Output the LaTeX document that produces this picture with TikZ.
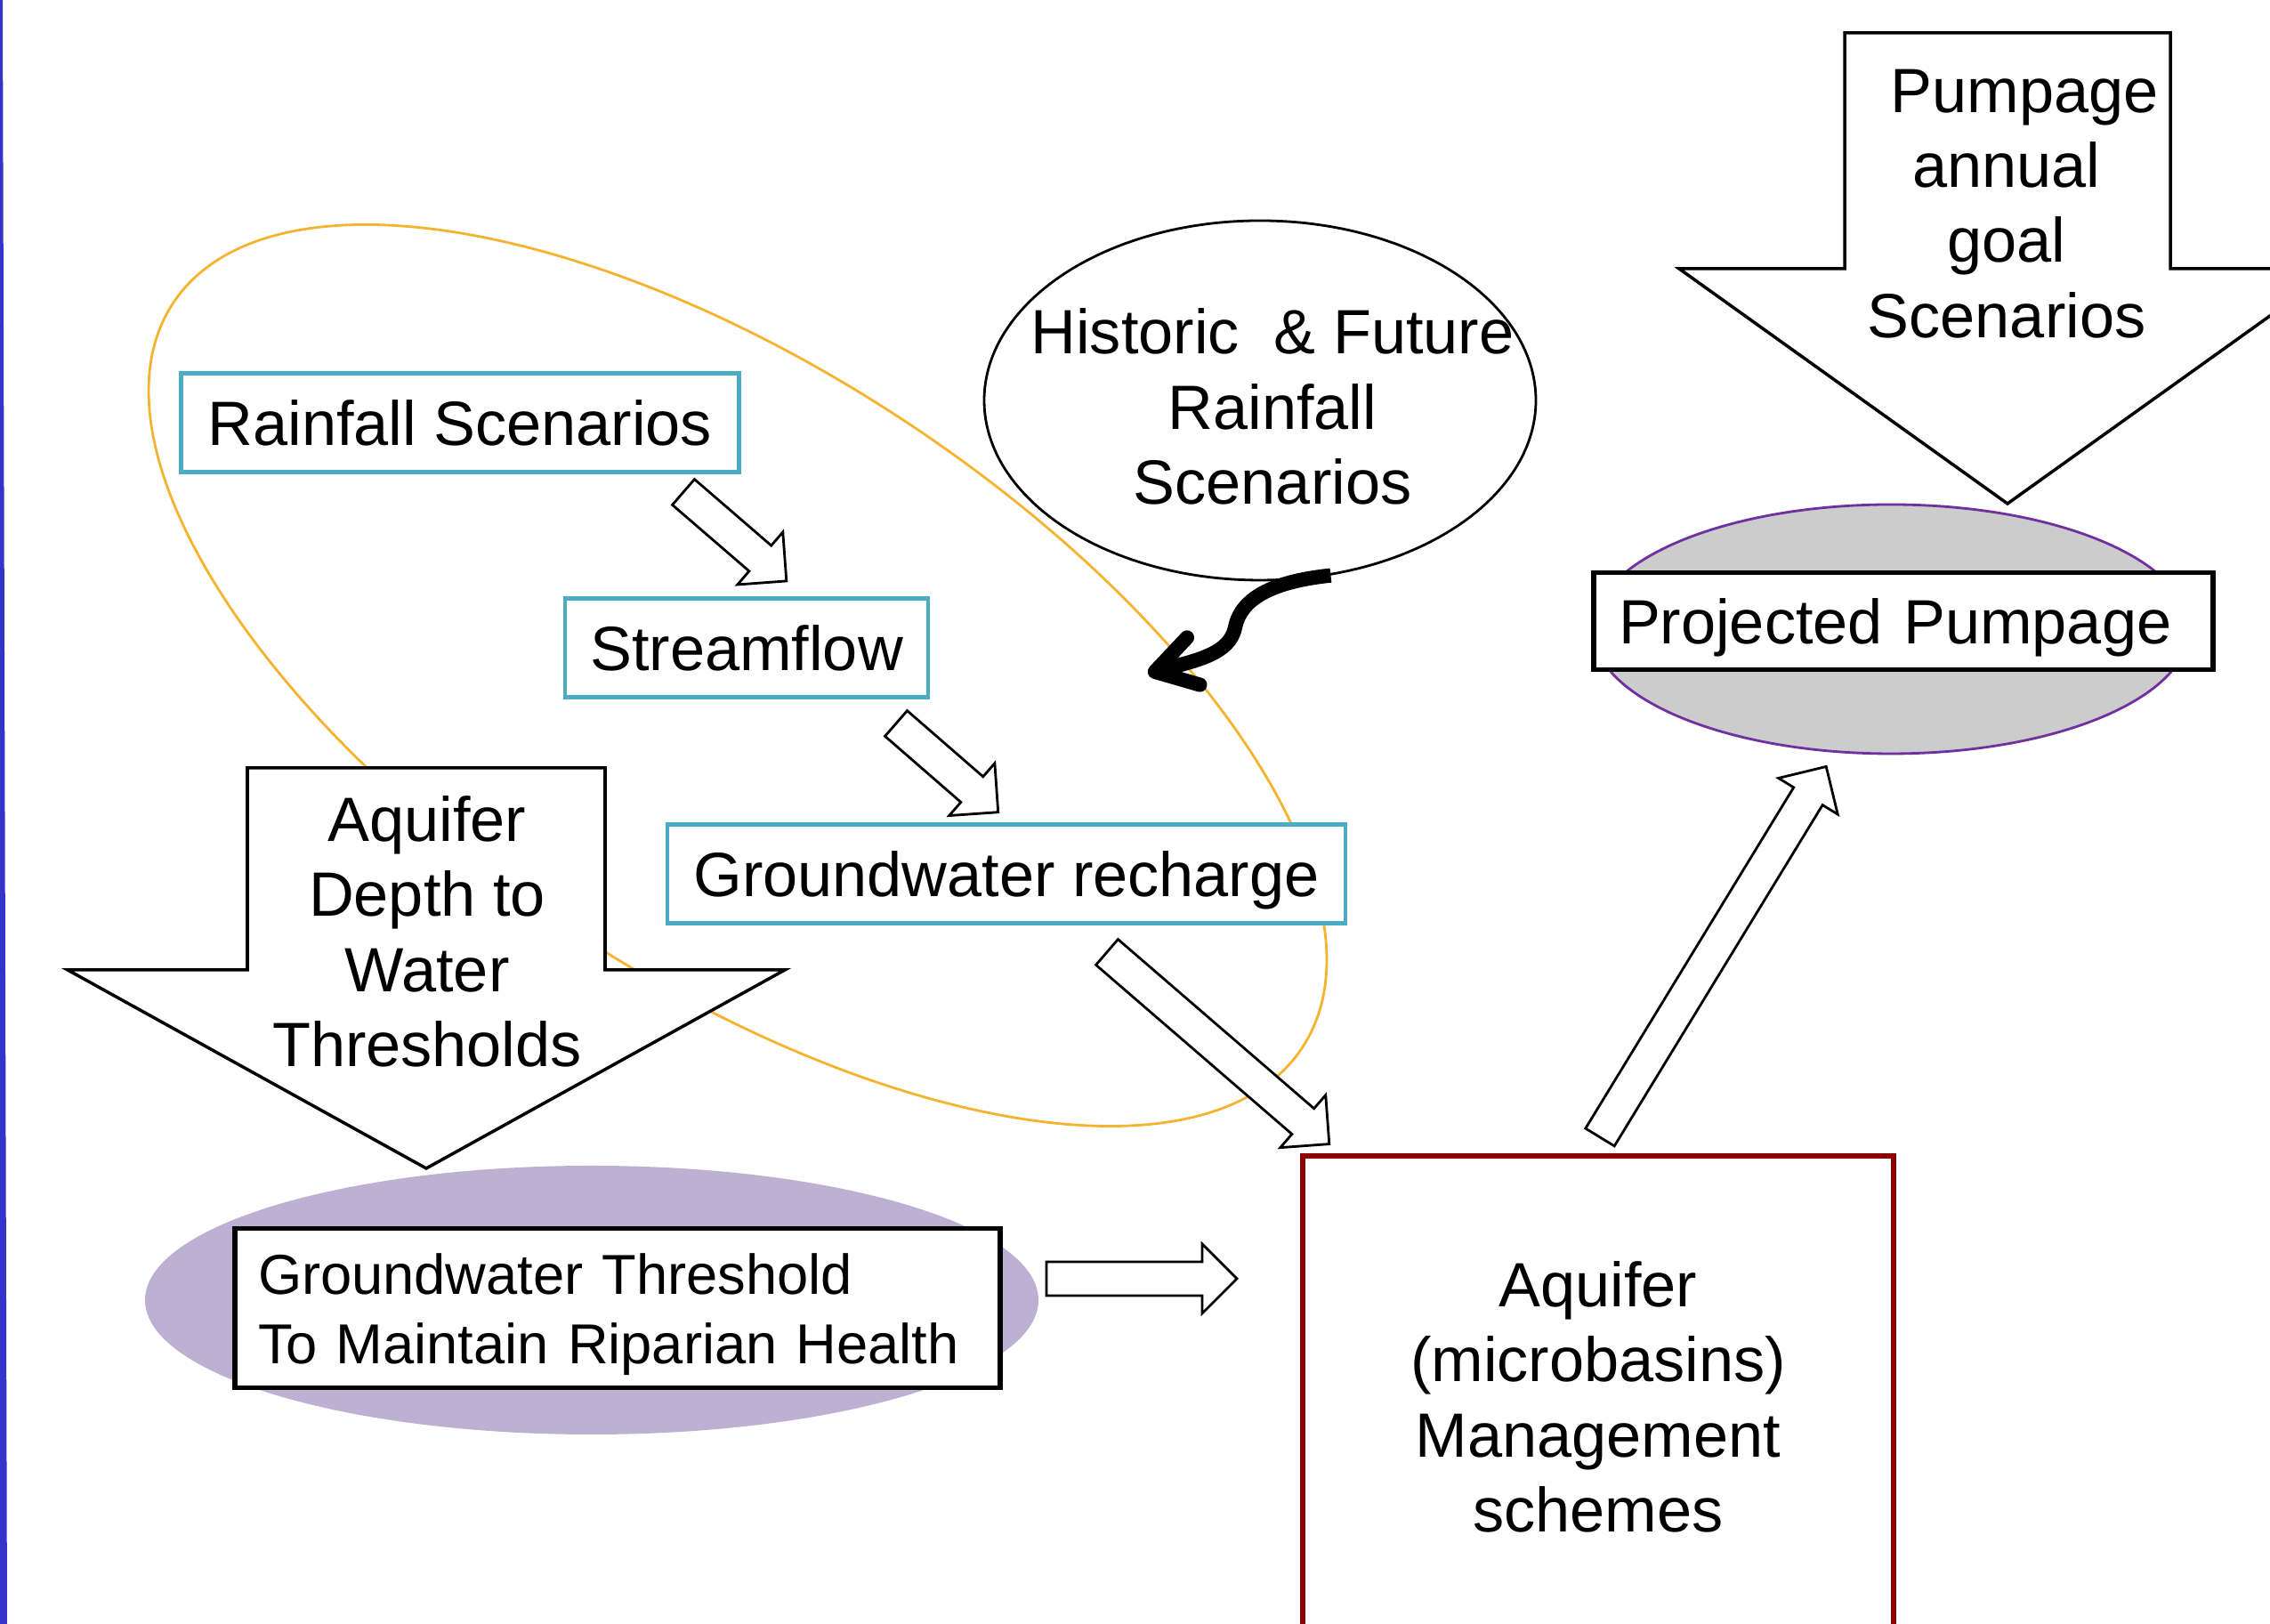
\documentclass[tikz,border=0pt]{standalone}
\usepackage{fontspec}
\setmainfont{Liberation Sans}
\usetikzlibrary{arrows.meta,shapes.geometric}

\definecolor{tealedge}{HTML}{4BACC6}
\definecolor{ringorange}{HTML}{F5B330}
\definecolor{lavender}{HTML}{BDB0D2}
\definecolor{violetedge}{HTML}{7030A0}
\definecolor{darkred}{HTML}{8B0000}
\definecolor{sideblue}{HTML}{3434CC}

\tikzset{
    txt/.style={font=\fontsize{20}{24}\selectfont, align=center},
    bluebox/.style={draw=tealedge, line width=1.4pt, fill=white, minimum height=1.11cm, text depth=0pt, txt},
    blackbox/.style={draw, line width=1.6pt, fill=white},
}

% fleche creuse : origine, angle, longueur
\newcommand{\hollow}[3]{
    \begin{scope}[shift={#1}, rotate=#2]
        \draw[fill=white, line width=.8pt] (0,-.19) -- ({#3-.39},-.19) -- ({#3-.39},-.39) -- (#3,0)
            -- ({#3-.39},.39) -- ({#3-.39},.19) -- (0,.19) -- cycle;
    \end{scope}
}
% grosse fleche vers le bas : x, demi-largeur, haut, ailes, demi-tete, pointe
\newcommand{\bigdown}[6]{
    \draw[fill=white, line width=1pt] ({#1-#2},#3) -- ({#1+#2},#3) -- ({#1+#2},#4) -- ({#1+#5},#4)
        -- (#1,#6) -- ({#1-#5},#4) -- ({#1-#2},#4) -- cycle;
}

\begin{document}
\begin{tikzpicture}
    \useasboundingbox (0,0) rectangle (25.51,18.25);
    \clip (0,0) rectangle (25.51,18.25);

    % bord gauche
    \fill[sideblue] (0,18.25) -- (.03,18.25) -- (.08,0) -- (0,0) -- cycle;

    % anneau
    \draw[ringorange, line width=.8pt] (8.29,10.66) ellipse[x radius=7.6, y radius=3.42, rotate=-33.4];

    % fonds
    \fill[lavender] (6.65,3.64) ellipse (5.02 and 1.51);
    \draw[violetedge, fill=black!20, line width=.8pt] (21.25,11.18) ellipse (3.35 and 1.40);

    % pluie
    \node[bluebox, minimum width=6.27cm] (rain) at (5.17,13.50) {Rainfall Scenarios};
    \node[bluebox, minimum width=4.08cm] (flow) at (8.39,10.97) {Streamflow};
    \node[bluebox, minimum width=7.62cm] (rech) at (11.31,8.43) {Groundwater recharge};

    \node[draw, ellipse, fill=white, line width=.8pt, minimum width=6.2cm, minimum height=4.04cm] (hist) at (14.16,13.75) {};
    \node[txt] (histtxt) at (14.30,13.68) {Historic\ \ \& Future\\Rainfall\\Scenarios};

    % pompage
    \bigdown{22.56}{1.83}{17.88}{15.23}{3.69}{12.59}
    \node[txt] (goal) at (22.55,15.96) {\hspace*{.4cm}Pumpage\\annual\\goal\\Scenarios};
    \node[blackbox, txt, text width=6.4cm, align=left, inner xsep=.28cm, minimum height=1.09cm, text depth=0pt] (proj) at (21.39,11.27) {Projected Pumpage};

    % seuils
    \bigdown{4.79}{2.01}{9.62}{7.35}{4.03}{5.12}
    \node[txt] (depth) at (4.80,7.78) {Aquifer\\Depth to\\Water\\Thresholds};
    \node[blackbox, font=\fontsize{18}{22}\selectfont, text width=8.08cm, align=left, inner xsep=.26cm, minimum height=1.79cm, text height=.6cm] (gwth) at (6.94,3.55) {Groundwater Threshold\\To Maintain Riparian Health};

    % gestion
    \node[draw=darkred, line width=1.6pt, minimum width=6.64cm, minimum height=5.42cm, txt] (aqf) at (17.96,2.55) {Aquifer\\(microbasins)\\Management\\schemes};

    % fleches
    \hollow{(7.68,12.72)}{-40.8}{1.53}
    \hollow{(10.07,10.12)}{-41}{1.52}
    \hollow{(12.44,7.55)}{-40.8}{3.30}
    \hollow{(11.76,3.88)}{0}{2.14}
    \hollow{(17.98,5.47)}{58.6}{4.88}

    \coordinate (hook) at (12.90,10.68);
    \draw[line width=4.6pt, -{Straight Barb[length=4.5mm, width=5.5mm, round]}] (hist.-68)
        .. controls (14.35,11.72) and (13.95,11.55) .. (13.88,11.2)
        .. controls (13.82,10.9) and (13.45,10.83) .. (hook);
\end{tikzpicture}
\end{document}
